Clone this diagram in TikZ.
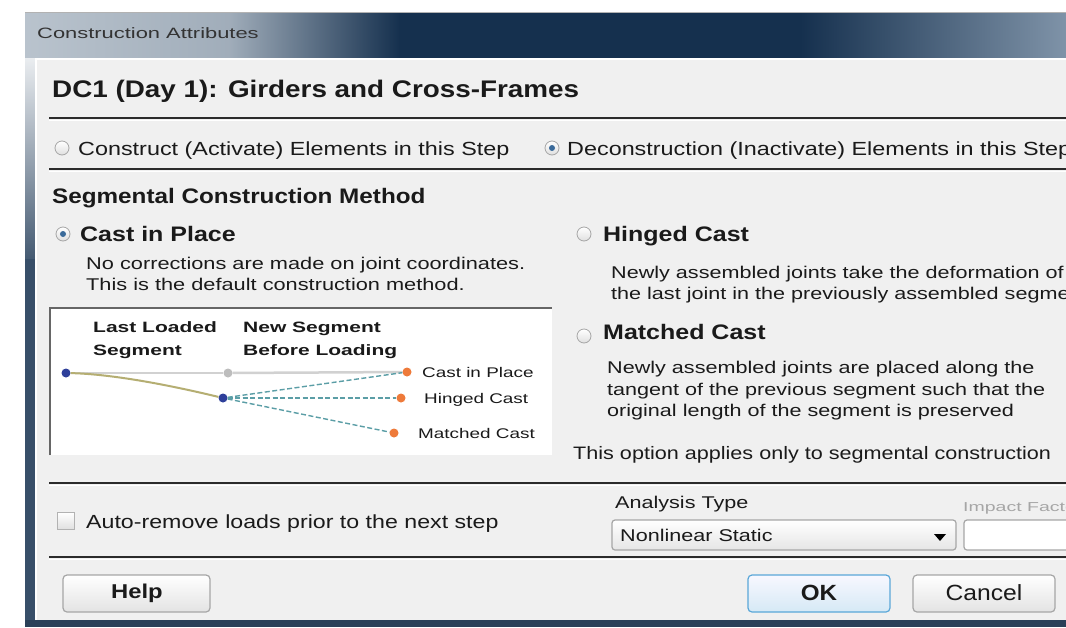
\documentclass[tikz,border=0pt]{standalone}
\usepackage{graphicx}
\usepackage{fontspec}
\setmainfont{Liberation Sans}
\newcommand{\xs}[2]{\scalebox{#1}[1]{#2}}
\definecolor{panel}{HTML}{F0F0F0}
\definecolor{txtc}{HTML}{1A1A1A}
\definecolor{navy}{HTML}{15304E}
\definecolor{titlelight}{HTML}{B9C3CD}
\definecolor{titleright}{HTML}{7F93A8}
\definecolor{sepc}{HTML}{2B2B2B}
\definecolor{dotblue}{HTML}{2E3F9A}
\definecolor{dotorange}{HTML}{EE7A3A}
\definecolor{dotgray}{HTML}{BDBDBD}
\definecolor{olivec}{HTML}{B5AE72}
\definecolor{tealc}{HTML}{5B9EA6}
\definecolor{radioblue}{HTML}{3A6A9A}
\definecolor{okblue}{HTML}{5AA7D8}
\begin{document}
\begin{tikzpicture}[x=1pt,y=-1pt,
  txt/.style={anchor=base west, inner sep=0pt, text=txtc, font=\fontsize{17}{20}\selectfont},
  bigtxt/.style={txt, font=\fontsize{19}{22}\selectfont},
  headtxt/.style={txt, font=\bfseries\fontsize{21}{24}\selectfont},
  pictxt/.style={anchor=base west, inner sep=0pt, text=txtc, font=\bfseries\fontsize{15}{18}\selectfont},
  lbltxt/.style={anchor=base west, inner sep=0pt, text=txtc, font=\fontsize{14}{16}\selectfont},
  sepline/.style={draw=sepc, line width=2.2pt},
  sephl/.style={draw=white, line width=1pt},
  radio/.style={circle, minimum size=14pt, inner sep=0pt, draw=gray!70, line width=0.8pt, top color=white, bottom color=gray!25},
  radiodot/.style={circle, minimum size=6pt, inner sep=0pt, fill=radioblue},
  pdot/.style={circle, minimum size=9pt, inner sep=0pt},
  btn/.style={draw=gray!70, line width=1.2pt, rounded corners=4pt, top color=white, bottom color=gray!22},
  btntxt/.style={inner sep=0pt, text=txtc, font=\fontsize{22}{24}\selectfont}
]
\clip (0,0) rectangle (1066,627);
\fill[white] (0,0) rectangle (1066,627);
% window frame
\fill[left color=titlelight, right color=titlelight!85!navy] (25,12) rectangle (230,58);
\fill[left color=titlelight!85!navy, right color=navy] (229,12) rectangle (400,58);
\fill[navy] (399,12) rectangle (801,58);
\fill[left color=navy, right color=titleright] (800,12) rectangle (1066,58);
\fill[top color=white!70!titlelight, bottom color=navy!80] (25,58) rectangle (35,260);
\fill[navy!85] (25,259) rectangle (35,627);
\fill[navy!80!gray] (25,620) rectangle (1066,627);
\draw[gray!60, line width=1pt] (25,12) -- (1066,12);
\node[anchor=base west, inner sep=0pt, text=black!80, font=\fontsize{15}{17}\selectfont] (title) at (37,38) {\xs{1.46}{Construction Attributes}};
% panel
\fill[panel] (35,58) rectangle (1066,620);
\draw[white, line width=1.5pt] (36,620) -- (36,59) -- (1066,59);
% heading
\node[anchor=base west, inner sep=0pt, text=txtc, font=\bfseries\fontsize{24}{28}\selectfont] (head) at (52,97) {\xs{1.16}{DC1 (Day 1): Girders and Cross-Frames}};
% separators
\foreach \yy in {118,169,483,557}{
  \draw[sepline] (49,\yy) -- (1066,\yy);
  \draw[sephl] (49,\yy+2) -- (1066,\yy+2);
}
% construct / deconstruct radios
\node[radio] (r1) at (62,148) {};
\node[bigtxt] (r1t) at (78,155) {\xs{1.23}{Construct (Activate) Elements in this Step}};
\node[radio] (r2) at (552,148) {};
\node[radiodot] (r2d) at (r2) {};
\node[bigtxt] (r2t) at (567,155) {\xs{1.23}{Deconstruction (Inactivate) Elements in this Step}};
% segmental
\node[headtxt] (seg) at (52,203) {\xs{1.155}{Segmental Construction Method}};
\node[radio] (r3) at (63,234) {};
\node[radiodot] (r3d) at (r3) {};
\node[headtxt] (cip) at (80,241) {\xs{1.19}{Cast in Place}};
\node[txt] (cip1) at (86,269) {\xs{1.28}{No corrections are made on joint coordinates.}};
\node[txt] (cip2) at (86,290) {\xs{1.28}{This is the default construction method.}};
\node[radio] (r4) at (584,234) {};
\node[headtxt] (hc) at (603,241) {\xs{1.19}{Hinged Cast}};
\node[txt] (hc1) at (611,278) {\xs{1.27}{Newly assembled joints take the deformation of}};
\node[txt] (hc2) at (611,299) {\xs{1.27}{the last joint in the previously assembled segment}};
\node[radio] (r5) at (584,336) {};
\node[headtxt] (mc) at (603,339) {\xs{1.19}{Matched Cast}};
\node[txt] (mc1) at (607,373) {\xs{1.27}{Newly assembled joints are placed along the}};
\node[txt] (mc2) at (607,395) {\xs{1.27}{tangent of the previous segment such that the}};
\node[txt] (mc3) at (607,416) {\xs{1.27}{original length of the segment is preserved}};
\node[txt, font=\fontsize{18}{20}\selectfont] (opt) at (573,459) {\xs{1.2}{This option applies only to segmental construction}};
% picture box
\fill[white] (50,308) rectangle (552,455);
\draw[gray!80!black, line width=2pt] (50,455) -- (50,308) -- (552,308);
\node[pictxt] (ll1) at (93,332) {\xs{1.4}{Last Loaded}};
\node[pictxt] (ll2) at (93,355) {\xs{1.4}{Segment}};
\node[pictxt] (ns1) at (243,332) {\xs{1.4}{New Segment}};
\node[pictxt] (ns2) at (243,355) {\xs{1.4}{Before Loading}};
\node[pdot, fill=dotblue] (b1) at (66,373) {};
\node[pdot, fill=dotgray] (g1) at (228,373) {};
\node[pdot, fill=dotblue] (b2) at (223,398) {};
\node[pdot, fill=dotorange] (o1) at (407,372) {};
\node[pdot, fill=dotorange] (o2) at (401,398) {};
\node[pdot, fill=dotorange] (o3) at (394,433) {};
\draw[dotgray!70, line width=2.5pt] (b1) -- (g1);
\draw[dotgray!70, line width=2.5pt] (g1) -- (o1);
\draw[olivec, line width=2pt] (b1) .. controls (110,374) and (165,384) .. (b2);
\foreach \o in {o1,o2,o3}{
  \draw[tealc, line width=1.4pt, dash pattern=on 5pt off 2.5pt] (b2) -- (\o);
}
\node[lbltxt] (l1) at (422,377) {\xs{1.35}{Cast in Place}};
\node[lbltxt] (l2) at (424,403) {\xs{1.35}{Hinged Cast}};
\node[lbltxt] (l3) at (418,438) {\xs{1.35}{Matched Cast}};
% bottom area
\node[draw=gray!60, line width=1pt, minimum size=17pt, inner sep=0pt, top color=white, bottom color=gray!25] (cb) at (66,521) {};
\node[bigtxt] (cbt) at (86,528) {\xs{1.22}{Auto-remove loads prior to the next step}};
\node[txt] (at) at (615,508) {\xs{1.27}{Analysis Type}};
\draw[draw=gray!70, line width=1.2pt, rounded corners=3pt, top color=white, bottom color=gray!20] (612,520) rectangle (956,550);
\node[txt] (nls) at (620,541) {\xs{1.27}{Nonlinear Static}};
\fill[black] (934,534) -- (946,534) -- (940,541) -- cycle;
\node[anchor=base west, inner sep=0pt, text=gray!70, font=\fontsize{13}{15}\selectfont] (if) at (963,511) {\xs{1.5}{Impact Factor}};
\draw[draw=gray!70, line width=1.2pt, rounded corners=3pt, fill=white] (964,520) rectangle (1080,550);
% buttons
\draw[btn] (63,575) rectangle (210,612);
\node[btntxt, font=\bfseries\fontsize{20}{22}\selectfont] (help) at (137,593) {\xs{1.19}{Help}};
\draw[btn, draw=okblue, top color=blue!3!white, bottom color=okblue!25] (748,575) rectangle (890,612);
\node[btntxt, font=\bfseries\fontsize{22}{24}\selectfont] (ok) at (819,593) {\xs{1.1}{OK}};
\draw[btn] (913,575) rectangle (1055,612);
\node[btntxt] (cancel) at (984,593) {\xs{1.12}{Cancel}};
\end{tikzpicture}
\end{document}
